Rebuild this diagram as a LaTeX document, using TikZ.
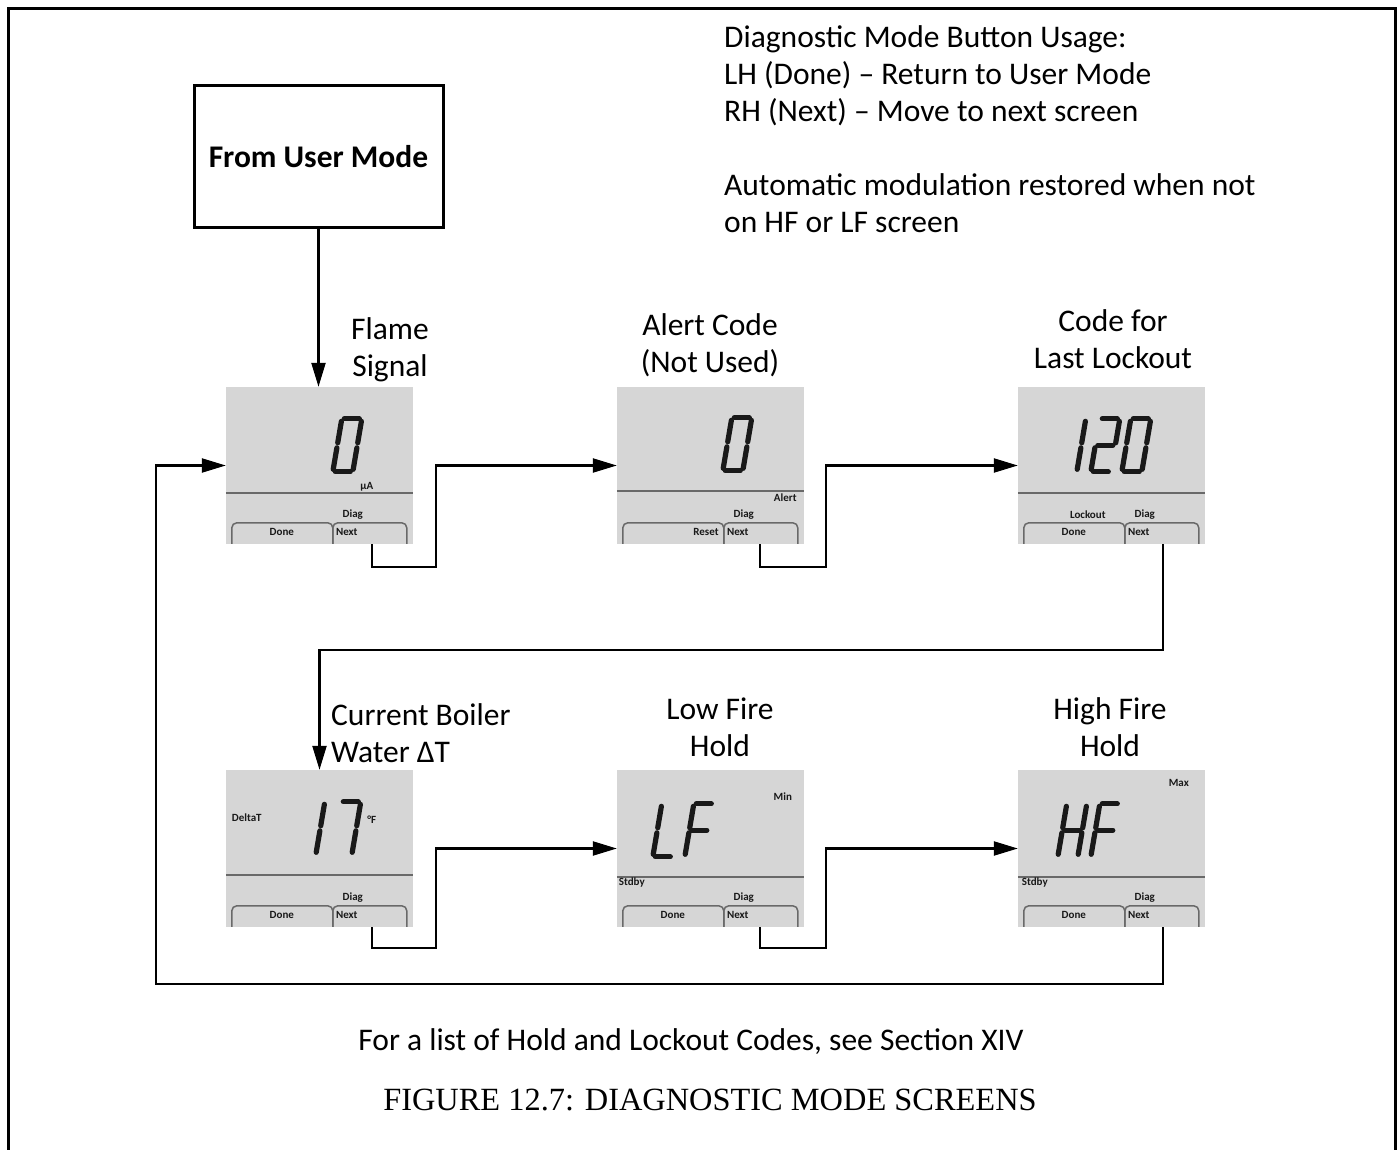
\documentclass[tikz,border=0pt]{standalone}
\usepackage{fontspec}
\setmainfont{Carlito}
\newfontfamily\capfont{Liberation Serif}
\usetikzlibrary{arrows.meta,positioning}
\definecolor{lcdgray}{RGB}{214,214,214}
\definecolor{lcdline}{RGB}{105,105,105}
\definecolor{lcdink}{RGB}{25,25,25}
% seven segment pieces, local units, y up
\newcommand\lcdsega{\draw[seg] (2.5,53)--(17.5,53);}
\newcommand\lcdsegb{\draw[seg] (20,50.5)--(20,29);}
\newcommand\lcdsegc{\draw[seg] (20,24)--(20,2.5);}
\newcommand\lcdsegd{\draw[seg] (2.5,0)--(17.5,0);}
\newcommand\lcdsege{\draw[seg] (0,24)--(0,2.5);}
\newcommand\lcdsegf{\draw[seg] (0,50.5)--(0,29);}
\newcommand\lcdsegg{\draw[seg] (2.5,26.5)--(17.5,26.5);}
\newcommand\lcddigit[3]{\begin{scope}[shift={(#1,#2)},yscale=-1,xslant=-0.17]\foreach \s in {#3}{\csname lcdseg\s\endcsname}\end{scope}}
% divider, soft keys, Diag and Next
\newcommand\lcdbase[1]{\draw[divider] (0,#1)--(187,#1);
\draw[tab] (6,157)--(6,136)--(107,136)--(107,157); \draw[tab] (107,157)--(107,136)--(181,136)--(181,157);
\node[lcdtxt] at (127,128) {Diag}; \node[lcdtxt,anchor=west] at (110,145) {Next};}

\begin{document}
\begin{tikzpicture}[x=1pt,y=-1pt,every node/.style={font=\fontsize{31.5}{37}\selectfont},
  screen/.style={fill=lcdgray,minimum width=187pt,minimum height=157pt,inner sep=0pt},
  seg/.style={line width=5.2pt,line cap=round,draw=lcdink},
  divider/.style={draw=lcdline,line width=2pt},
  tab/.style={draw=lcdline,line width=1.5pt,rounded corners=5pt},
  lcdtxt/.style={font=\fontsize{11}{12}\selectfont\bfseries,text=lcdink,inner sep=0pt},
  flow/.style={line width=2.2pt,-{Triangle[length=24pt,width=14pt]}},
  lbl/.style={align=center,inner sep=0pt}]
\useasboundingbox (0,0) rectangle (1398,1150);
\draw[line width=3pt] (8,1150)--(8,9)--(1395.5,9)--(1395.5,1150);

\node[draw,line width=3pt,minimum width=249pt,minimum height=142pt,font=\fontsize{31.5}{37}\selectfont\bfseries] (usermode) at (318.5,157) {From User Mode};
\node[anchor=north west,align=left,inner sep=0pt] (usage) at (724,25) {Diagnostic Mode Button Usage:\\LH (Done) – Return to User Mode\\RH (Next) – Move to next screen\\[37pt]Automatic modulation restored when not\\on HF or LF screen};

% screens
\node[screen] (flame) at (319.5,465.5) {};
\node[screen] (alert) at (710.5,465.5) {};
\node[screen] (lockout) at (1111.5,465.5) {};
\node[screen] (deltat) at (319.5,848.5) {};
\node[screen] (lowfire) at (710.5,848.5) {};
\node[screen] (highfire) at (1111.5,848.5) {};

\begin{scope}[shift={(flame.north west)}]
\lcdbase{106} \node[lcdtxt] at (56,145) {Done}; \node[lcdtxt] at (141,100) {µA};
\lcddigit{107}{85}{a,b,c,d,e,f}
\end{scope}
\begin{scope}[shift={(alert.north west)}]
\lcdbase{104} \node[lcdtxt,anchor=east] at (102,145) {Reset}; \node[lcdtxt,anchor=east] at (180,111) {Alert};
\lcddigit{106}{84}{a,b,c,d,e,f}
\end{scope}
\begin{scope}[shift={(lockout.north west)}]
\lcdbase{106} \node[lcdtxt] at (56,145) {Done}; \node[lcdtxt] at (70,128) {Lockout};
\lcddigit{39}{85}{b,c} \lcddigit{73}{85}{a,b,g,e,d} \lcddigit{104}{85}{a,b,c,d,e,f}
\end{scope}
\begin{scope}[shift={(deltat.north west)}]
\lcdbase{105} \node[lcdtxt] at (56,145) {Done}; \node[lcdtxt] at (21,48) {DeltaT}; \node[lcdtxt] at (146,50) {°F};
\lcddigit{70}{85}{b,c} \lcddigit{106}{85}{a,b,c}
\end{scope}
\begin{scope}[shift={(lowfire.north west)}]
\lcdbase{107} \node[lcdtxt] at (56,145) {Done}; \node[lcdtxt] at (166,27) {Min}; \node[lcdtxt] at (15,113) {Stdby};
\lcddigit{36}{87}{f,e,d} \lcddigit{68}{87}{a,f,e,g}
\end{scope}
\begin{scope}[shift={(highfire.north west)}]
\lcdbase{107} \node[lcdtxt] at (56,145) {Done}; \node[lcdtxt] at (161,13) {Max}; \node[lcdtxt] at (17,113) {Stdby};
\lcddigit{40}{87}{f,e,b,c,g} \lcddigit{73}{87}{a,f,e,g}
\end{scope}

% screen titles
\node[lbl] (flamelbl) at (390,350) {Flame\\Signal};
\node[lbl] (alertlbl) at (710,345) {Alert Code\\(Not Used)};
\node[lbl] (lockoutlbl) at (1113,339) {Code for\\Last Lockout};
\node[lbl,align=left,anchor=west] (deltatlbl) at (331,733) {Current Boiler\\Water ΔT};
\node[lbl] (lowfirelbl) at (720,727) {Low Fire\\Hold};
\node[lbl] (highfirelbl) at (1110,727) {High Fire\\Hold};

% connectors
\draw[flow] (usermode.south) -- (usermode.south |- flame.north);
\draw[flow] ([xshift=146pt]flame.south west) -- ++(0,23) -| ([xshift=-181pt]alert.west) -- (alert.west);
\draw[flow] ([xshift=143pt]alert.south west) -- ++(0,23) -| ([xshift=-192pt]lockout.west) -- (lockout.west);
\draw[flow] ([xshift=145pt]lockout.south west) -- ++(0,106) -| (deltat.north);
\draw[flow] ([xshift=146pt]deltat.south west) -- ++(0,21) -| ([xshift=-181pt]lowfire.west) -- (lowfire.west);
\draw[flow] ([xshift=143pt]lowfire.south west) -- ++(0,21) -| ([xshift=-192pt]highfire.west) -- (highfire.west);
\draw[flow] ([xshift=145pt]highfire.south west) -- ++(0,57) -| ([xshift=-70pt]flame.west) -- (flame.west);

\node (codes) at (691,1042) {For a list of Hold and Lockout Codes, see Section XIV};
\node[font=\capfont\fontsize{32.4}{38}\selectfont] (caption) at (710,1100) {FIGURE 12.7: DIAGNOSTIC MODE SCREENS};
\end{tikzpicture}
\end{document}
